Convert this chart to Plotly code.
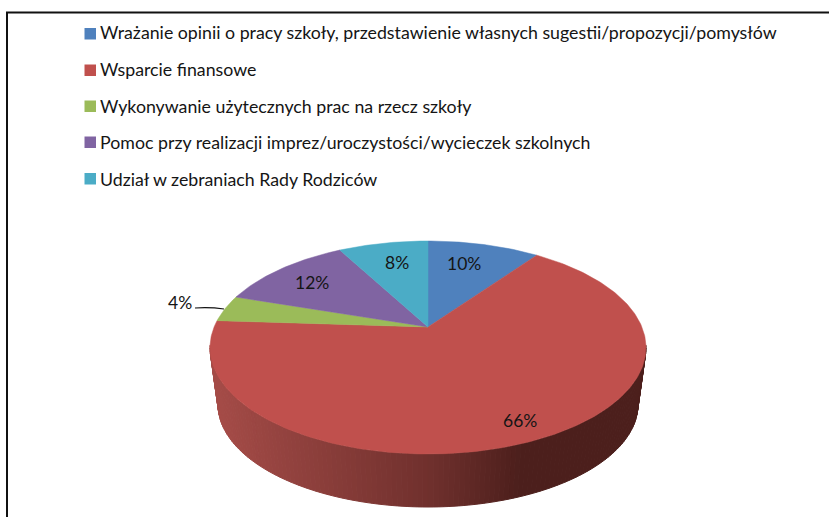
import math
import plotly.graph_objects as go

# ---- data ----
categories = [
    "Wrażanie opinii o pracy szkoły, przedstawienie własnych sugestii/propozycji/pomysłów",
    "Wsparcie finansowe",
    "Wykonywanie użytecznych prac na rzecz szkoły",
    "Pomoc przy realizacji imprez/uroczystości/wycieczek szkolnych",
    "Udział w zebraniach Rady Rodziców",
]
values = [10, 66, 4, 12, 8]
colors = ["#4F81BD", "#C0504D", "#9BBB59", "#8064A2", "#4BACC6"]

# ---- pie projection (pixel space) ----
CX, APEX_Y = 428.0, 327.0
K, SX, SY = 0.1925, 213.9, 102.55
TOP = (218.0, 347.5, 106.5)
BOTTOM = (210.0, 404.5, 102.5)
label_radius = [0.735, 0.86, None, 0.735, 0.735]
label_xshift = [-7, 0, 0, -5, 3]
FONT = "Lato"
TEXT = "#151515"
LEGEND_SIZE = 17.75
LABEL_SIZE = 17.5
swatch_rows = [33.5, 70, 106, 142, 178.5]


def project(angle, r=1.0):
    u, v = r * math.sin(angle), r * math.cos(angle)
    d = 1 + K * v
    return CX + SX * u / d, APEX_Y - SY * v / d


def mix(a, b, t):
    return "rgb(%d,%d,%d)" % tuple(round(a[i] + (b[i] - a[i]) * t) for i in range(3))


fig = go.Figure()

# side wall of the red slice, as shaded strips
N = 130
WALL_L, WALL_M, WALL_R = (166, 76, 72), (112, 48, 45), (76, 31, 28)
for i in range(N):
    p0 = -0.02 + (math.pi + 0.04) * i / N
    p1 = -0.02 + (math.pi + 0.04) * (i + 1) / N
    xs, ys = [], []
    for (rx, cy, ry), p in ((TOP, p0), (TOP, p1), (BOTTOM, p1), (BOTTOM, p0), (TOP, p0)):
        xs.append(CX + rx * math.cos(p))
        ys.append(cy + ry * math.sin(p))
    xm = sum(xs[:4]) / 4
    if xm < CX:
        col = mix(WALL_L, WALL_M, (xm - 212) / (CX - 212))
    else:
        col = mix(WALL_M, WALL_R, min(1, (xm - CX) / 92))
    fig.add_trace(go.Scatter(x=xs, y=ys, mode="lines", fill="toself", fillcolor=col,
                             line=dict(color=col, width=1), hoverinfo="skip", showlegend=False))

# top faces
total = sum(values)
cum = 0
for name, val, col in zip(categories, values, colors):
    a0 = 2 * math.pi * cum / total
    a1 = 2 * math.pi * (cum + val) / total
    n = max(4, int(val * 4))
    pts = [project(a0 + (a1 - a0) * j / n) for j in range(n + 1)]
    xs = [CX] + [p[0] for p in pts] + [CX]
    ys = [APEX_Y] + [p[1] for p in pts] + [APEX_Y]
    fig.add_trace(go.Scatter(x=xs, y=ys, mode="lines", fill="toself", fillcolor=col,
                             line=dict(color=col, width=0.5), name=name, showlegend=False,
                             hovertemplate=f"{name}: {val}%<extra></extra>"))
    cum += val

# legend entries: the text comes from the legend, the swatches sit closer to it as shapes
for i, name in enumerate(categories):
    fig.add_trace(go.Scatter(x=[None], y=[None], mode="markers", name=name, legendgroup=str(i),
                             marker=dict(symbol="square", size=11, color="rgba(0,0,0,0)")))

# value labels
cum = 0
for val, r, dx in zip(values, label_radius, label_xshift):
    mid = 2 * math.pi * (cum + val / 2) / total
    cum += val
    if r is None:
        continue
    x, y = project(mid, r)
    fig.add_annotation(x=x, y=y, xshift=dx, text=f"{val}%", showarrow=False,
                       font=dict(family=FONT, size=LABEL_SIZE, color=TEXT))

# outside label with leader line to the green slice
fig.add_annotation(x=180, y=302, text=f"{values[2]}%", showarrow=False,
                   font=dict(family=FONT, size=LABEL_SIZE, color=TEXT))

shapes = [dict(type="path", path="M 195 308 Q 210 307 224 309", line=dict(color="#111", width=1.2))]
for y, col in zip(swatch_rows, colors):
    shapes.append(dict(type="rect", x0=84.5, x1=96, y0=y - 5.5, y1=y + 6,
                       fillcolor=col, line=dict(width=0)))
shapes += [
    dict(type="line", x0=7, x1=7, y0=12, y1=517, line=dict(color="#111", width=2)),
    dict(type="line", x0=6, x1=829, y0=12.5, y1=12.5, line=dict(color="#111", width=2)),
]

fig.update_layout(
    width=829, height=517, margin=dict(l=0, r=0, t=0, b=0),
    paper_bgcolor="white", plot_bgcolor="white",
    xaxis=dict(range=[0, 829], visible=False, fixedrange=True),
    yaxis=dict(range=[517, 0], visible=False, fixedrange=True),
    legend=dict(x=0.0725, y=0.972, xanchor="left", yanchor="top", traceorder="grouped",
                tracegroupgap=10.5, itemwidth=30, bgcolor="rgba(0,0,0,0)",
                font=dict(family=FONT, size=LEGEND_SIZE, color=TEXT)),
    shapes=shapes,
)

fig.write_html("out.html", config=dict(displayModeBar=False),
               post_script="document.body.style.margin='0';document.body.style.overflow='hidden';")
